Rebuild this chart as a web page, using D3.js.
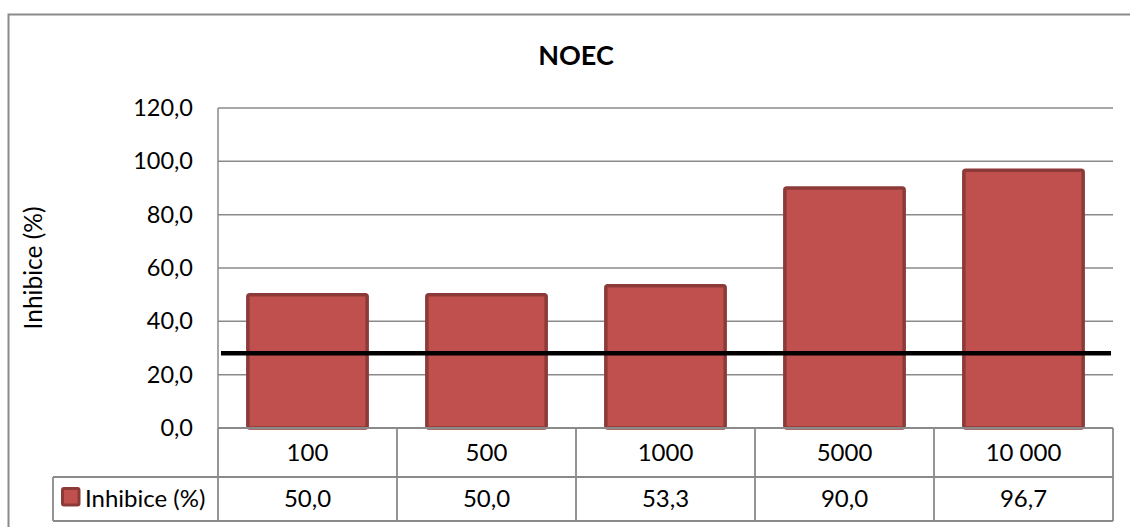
<!DOCTYPE html>
<html>
<head>
<meta charset="utf-8">
<script src="https://cdn.jsdelivr.net/npm/d3@7"></script>
<style>
  html, body { margin: 0; padding: 0; background: #fff; }
  svg { display: block; font-family: Lato, "Liberation Sans", sans-serif; }
</style>
</head>
<body>
<svg id="chart" width="1130" height="527"></svg>
<script>
// Concentrations shown along the category axis / in the data table header
const categories = ["100", "500", "1000", "5000", "10 000"];
// Inhibition (%) for each concentration
const inhibition = [50.0, 50.0, 53.3, 90.0, 96.7];
// Series name used in the legend cell and the axis title
const seriesName = "Inhibice (%)";
const chartTitle = "NOEC";
// Value axis ticks
const yTicks = [0, 20, 40, 60, 80, 100, 120];
// Horizontal reference level drawn across the plot
const thresholdValue = 28;

const svg = d3.select("#chart");
const plot = { left: 218, right: 1113, top: 108, bottom: 428 };
const table = { legendLeft: 53, row1: 477, row2: 521 };
const textSize = 24;

const fmt = d3.formatLocale({ decimal: ",", thousands: " ", grouping: [3], currency: ["", ""] }).format(".1f");

const x = d3.scaleBand()
  .domain(categories)
  .range([plot.left, plot.right])
  .paddingInner(1 / 3)
  .paddingOuter(1 / 6);

const y = d3.scaleLinear().domain([0, 120]).range([plot.bottom, plot.top]);

const gridColor = "#8a8a8a";
const barFill = "#c0504d";
const barStroke = "#8c3a38";

// Outer chart frame
svg.append("rect")
  .attr("x", 8.5).attr("y", 14.5)
  .attr("width", 1200).attr("height", 600)
  .attr("fill", "none").attr("stroke", "#8a8a8a").attr("stroke-width", 2);

// Title
svg.append("text")
  .attr("x", 576).attr("y", 65)
  .attr("text-anchor", "middle")
  .attr("font-size", 27).attr("font-weight", "bold")
  .text(chartTitle);

// Horizontal gridlines
svg.append("g").selectAll("line")
  .data(yTicks)
  .join("line")
  .attr("x1", plot.left).attr("x2", plot.right)
  .attr("y1", d => y(d)).attr("y2", d => y(d))
  .attr("stroke", gridColor).attr("stroke-width", 1.5);

// Value axis line
svg.append("line")
  .attr("x1", plot.left).attr("x2", plot.left)
  .attr("y1", plot.top).attr("y2", plot.bottom)
  .attr("stroke", gridColor).attr("stroke-width", 1.5);

// Value axis tick labels
const yAxis = svg.append("g")
  .attr("transform", `translate(${plot.left},0)`)
  .call(d3.axisLeft(y).tickValues(yTicks).tickFormat(fmt).tickSize(0).tickPadding(25));
yAxis.select(".domain").remove();
yAxis.selectAll("text")
  .attr("font-family", "Lato, 'Liberation Sans', sans-serif")
  .attr("font-size", 23.5).attr("fill", "#000");

// Axis title
svg.append("text")
  .attr("transform", `translate(42,${(plot.top + plot.bottom) / 2}) rotate(-90)`)
  .attr("text-anchor", "middle")
  .attr("font-size", 24.5)
  .text(seriesName);

// Bars
svg.append("g").selectAll("rect")
  .data(inhibition)
  .join("rect")
  .attr("x", (d, i) => x(categories[i]))
  .attr("width", x.bandwidth())
  .attr("y", d => y(d))
  .attr("height", d => y(0) - y(d))
  .attr("rx", 2)
  .attr("fill", barFill)
  .attr("stroke", barStroke)
  .attr("stroke-width", 3.5);

// Reference line
svg.append("line")
  .attr("x1", plot.left + 3).attr("x2", plot.right - 2)
  .attr("y1", y(thresholdValue)).attr("y2", y(thresholdValue))
  .attr("stroke", "#000").attr("stroke-width", 4.5);

// Data table grid
const tbl = svg.append("g").attr("stroke", gridColor).attr("stroke-width", 1.8).attr("fill", "none");
const edges = categories.map((c, i) => plot.left + i * x.step()).concat([plot.right]);
tbl.selectAll("line.v")
  .data(edges)
  .join("line")
  .attr("class", "v")
  .attr("x1", d => d).attr("x2", d => d)
  .attr("y1", plot.bottom).attr("y2", table.row2);
tbl.append("line").attr("x1", plot.left).attr("x2", plot.right).attr("y1", plot.bottom).attr("y2", plot.bottom);
tbl.append("line").attr("x1", table.legendLeft).attr("x2", plot.right).attr("y1", table.row1).attr("y2", table.row1);
tbl.append("line").attr("x1", table.legendLeft).attr("x2", plot.right).attr("y1", table.row2).attr("y2", table.row2);
tbl.append("line").attr("x1", table.legendLeft).attr("x2", table.legendLeft).attr("y1", table.row1).attr("y2", table.row2);

// Category header row
svg.append("g").selectAll("text")
  .data(categories)
  .join("text")
  .attr("x", d => x(d) + x.bandwidth() / 2)
  .attr("y", (plot.bottom + table.row1) / 2)
  .attr("dy", "0.35em")
  .attr("text-anchor", "middle")
  .attr("font-size", textSize)
  .text(d => d);

// Values row
svg.append("g").selectAll("text")
  .data(inhibition)
  .join("text")
  .attr("x", (d, i) => x(categories[i]) + x.bandwidth() / 2)
  .attr("y", (table.row1 + table.row2) / 2)
  .attr("dy", "0.35em")
  .attr("text-anchor", "middle")
  .attr("font-size", textSize)
  .text(d => fmt(d));

// Legend key in the table
svg.append("rect")
  .attr("x", 62.5).attr("y", 488.5)
  .attr("width", 16.5).attr("height", 16.5)
  .attr("rx", 1.5)
  .attr("fill", barFill).attr("stroke", barStroke).attr("stroke-width", 3);
svg.append("text")
  .attr("x", 85).attr("y", (table.row1 + table.row2) / 2)
  .attr("dy", "0.35em")
  .attr("font-size", textSize)
  .text(seriesName);
</script>
</body>
</html>
